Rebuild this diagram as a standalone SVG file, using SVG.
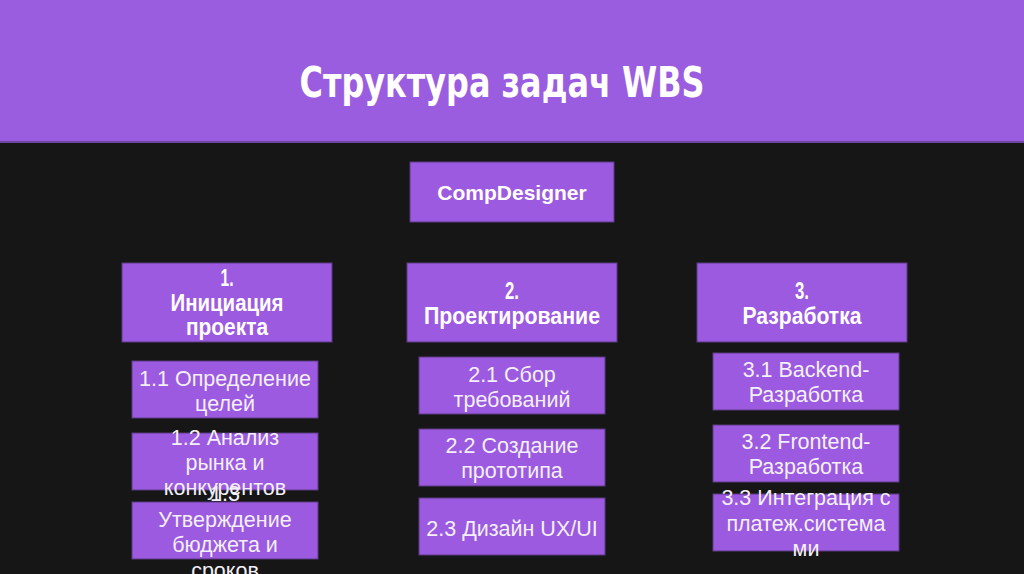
<svg xmlns="http://www.w3.org/2000/svg" width="1024" height="574" viewBox="0 0 1024 574">
<style>
.box{fill:#9b5ae0;stroke:#5a3a80;stroke-width:1}
.t3{font-family:"Liberation Sans",Arial,sans-serif;font-size:21.5px;fill:#f4f0f8;text-anchor:middle}
.t2{font-family:"Liberation Sans",Arial,sans-serif;font-size:23px;font-weight:bold;fill:#ffffff;text-anchor:middle}
.t1{font-family:"Liberation Sans",Arial,sans-serif;font-size:21px;font-weight:bold;fill:#ffffff;text-anchor:middle}
.title{font-family:"DejaVu Sans","Liberation Sans",sans-serif;font-size:43px;font-weight:bold;fill:#ffffff;text-anchor:middle}
</style>
<rect x="0" y="0" width="1024" height="574" fill="#161616"/>
<rect x="0" y="0" width="1024" height="142" fill="#9b5de0"/>
<rect x="0" y="141" width="1024" height="2" fill="#6e48a0"/>
<text class="title" x="502" y="97" textLength="405" lengthAdjust="spacingAndGlyphs">Структура задач WBS</text>
<g id="connectors"></g>
<g id="root"><rect class="box" x="410" y="162" width="204" height="60"/><text class="t1" x="512" y="200">CompDesigner</text></g>
<g id="n1"><rect class="box" x="122" y="263" width="210" height="79"/>
<text class="t2" x="227" y="286" textLength="13" lengthAdjust="spacingAndGlyphs">1.</text>
<text class="t2" x="227" y="311" textLength="113" lengthAdjust="spacingAndGlyphs">Инициация</text>
<text class="t2" x="227" y="335" textLength="82" lengthAdjust="spacingAndGlyphs">проекта</text></g>
<g id="n2"><rect class="box" x="407" y="263" width="210" height="79"/>
<text class="t2" x="512" y="299" textLength="14" lengthAdjust="spacingAndGlyphs">2.</text>
<text class="t2" x="512" y="324" textLength="176" lengthAdjust="spacingAndGlyphs">Проектирование</text></g>
<g id="n3"><rect class="box" x="697" y="263" width="210" height="79"/>
<text class="t2" x="802" y="299" textLength="14" lengthAdjust="spacingAndGlyphs">3.</text>
<text class="t2" x="802" y="324" textLength="119" lengthAdjust="spacingAndGlyphs">Разработка</text></g>
<g id="n11"><rect class="box" x="132" y="361" width="186" height="57"/>
<text class="t3" x="225" y="386">1.1 Определение</text><text class="t3" x="225" y="411">целей</text></g>
<g id="n12"><rect class="box" x="132" y="433" width="186" height="57"/>
<text class="t3" x="225" y="445">1.2 Анализ</text><text class="t3" x="225" y="470">рынка и</text><text class="t3" x="225" y="495">конкурентов</text></g>
<g id="n13"><text class="t3" x="225" y="501">1.3</text><rect class="box" x="132" y="502" width="186" height="57"/>
<text class="t3" x="225" y="527">Утверждение</text><text class="t3" x="225" y="552">бюджета и</text><text class="t3" x="225" y="578">сроков</text></g>
<g id="n21"><rect class="box" x="419" y="357" width="186" height="57"/>
<text class="t3" x="512" y="382">2.1 Сбор</text><text class="t3" x="512" y="407">требований</text></g>
<g id="n22"><rect class="box" x="419" y="429" width="186" height="57"/>
<text class="t3" x="512" y="453">2.2 Создание</text><text class="t3" x="512" y="478">прототипа</text></g>
<g id="n23"><rect class="box" x="419" y="498" width="186" height="57"/>
<text class="t3" x="512" y="536">2.3 Дизайн UX/UI</text></g>
<g id="n31"><rect class="box" x="713" y="353" width="186" height="57"/>
<text class="t3" x="806" y="377">3.1 Backend-</text><text class="t3" x="806" y="402">Разработка</text></g>
<g id="n32"><rect class="box" x="713" y="425" width="186" height="57"/>
<text class="t3" x="806" y="449">3.2 Frontend-</text><text class="t3" x="806" y="474">Разработка</text></g>
<g id="n33"><rect class="box" x="713" y="494" width="186" height="57"/>
<text class="t3" x="806" y="505">3.3 Интеграция с</text><text class="t3" x="806" y="531">платеж.система</text><text class="t3" x="806" y="556">ми</text></g>
</svg>
